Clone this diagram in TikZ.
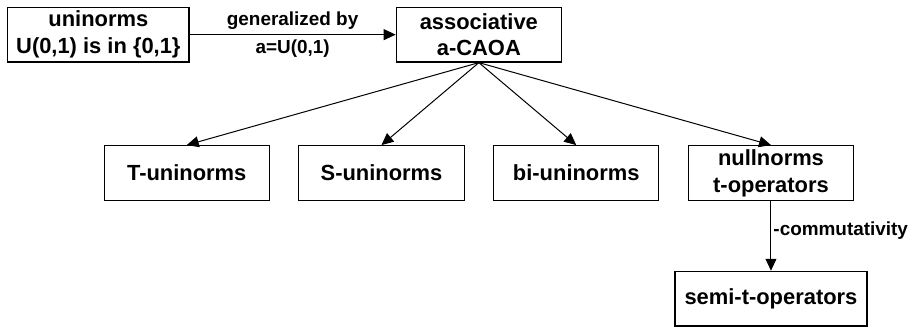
\documentclass[tikz,border=0pt]{standalone}
\usepackage{fontspec}
\setmainfont{Liberation Sans}
\usepackage{tikz-qtree,tikz-qtree-compat}
\usetikzlibrary{positioning,calc,arrows.meta}

\tikzset{
  box/.style={draw, line width=0.6pt, minimum width=83pt, minimum height=27.5pt, inner sep=1pt, align=center, font=\fontsize{11}{13.5}\selectfont\bfseries},
  lbl/.style={font=\fontsize{9.5}{11}\selectfont\bfseries, inner sep=2.5pt},
  arr/.style={line width=0.5pt, -{Triangle[length=6pt,width=5.5pt]}}
}

\begin{document}
\begin{tikzpicture}[every tree node/.style={box}, level distance=69.5pt, sibling distance=14.2pt,
    edge from parent/.style={draw, arr}, edge from parent path={(\tikzparentnode.south) -- (\tikzchildnode.north)}]
        \Tree
        [.\node(assoc){associative\\a-CAOA};
          \node(tuni){T-uninorms};
          \node(suni){S-uninorms};
          \node(biuni){bi-uninorms};
          \node(nulln){nullnorms\\t-operators};
        ]
        % side nodes
        \node[box, minimum width=91pt, left=103.5pt of assoc] (uni) {uninorms\\U(0,1) is in \{0,1\}};
        \node[box, minimum width=96.5pt, below=35pt of nulln] (semi) {semi-t-operators};
        \draw[arr] (uni) -- (assoc)
          node[lbl, midway, above] {generalized by}
          node[lbl, midway, below] {a=U(0,1)};
        \draw[arr] (nulln) -- (semi) node[lbl, pos=0.42, right, inner sep=1pt] {-commutativity};
        \path[use as bounding box] ($(assoc.center)+(-240.5pt,17.4pt)$) rectangle ($(assoc.center)+(214.5pt,-147.1pt)$);
      \end{tikzpicture}
\end{document}
